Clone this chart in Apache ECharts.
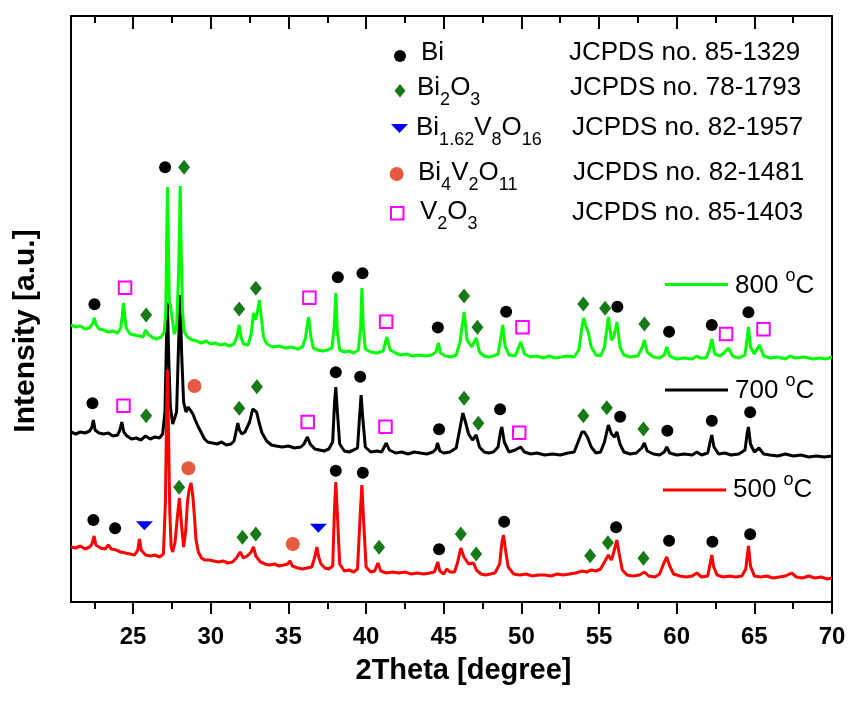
<!DOCTYPE html>
<html>
<head>
<meta charset="utf-8">
<script src="https://cdn.jsdelivr.net/npm/echarts@6/dist/echarts.min.js"></script>
<style>
html,body{margin:0;padding:0;background:#fff;}
#chart{width:849px;height:702px;}
</style>
</head>
<body>
<div id="chart"></div>
<script>
// ---- Data: [2Theta (degree), intensity (a.u., offset stacked)] ----
const seriesNames = ['800 °C', '700 °C', '500 °C'];
const majorTicks = [25, 30, 35, 40, 45, 50, 55, 60, 65, 70];
const minorTicks = [22.5, 27.5, 32.5, 37.5, 42.5, 47.5, 52.5, 57.5, 62.5, 67.5];

const green800 = [
[21.0,277],[21.3,275],[21.6,276],[21.9,273],[22.2,274],[22.4,279],[22.5,284],[22.6,278],[22.8,273],[23.1,272],
[23.4,270],[23.7,271],[24.0,269],[24.2,274],[24.3,286],[24.38,299],[24.45,288],[24.55,274],[24.8,268],[25.1,267],
[25.4,266],[25.65,265],[25.8,272],[25.85,274],[25.95,268],[26.2,265],[26.5,263],[26.8,265],[27.0,270],[27.1,290],
[27.16,360],[27.21,415],[27.27,360],[27.33,300],[27.4,297],[27.5,285],[27.65,268],[27.8,275],[27.93,330],[28.0,380],
[28.03,416],[28.1,350],[28.18,290],[28.3,270],[28.5,265],[28.8,262],[29.1,261],[29.4,259],[29.7,261],[30.0,258],
[30.3,259],[30.6,257],[30.9,258],[31.2,256],[31.5,258],[31.7,266],[31.83,277],[31.95,265],[32.1,258],[32.4,257],
[32.6,268],[32.75,289],[32.88,282],[33.0,290],[33.13,302],[33.25,285],[33.4,265],[33.6,258],[34.0,255],[34.4,256],
[34.8,254],[35.2,255],[35.6,253],[35.9,255],[36.1,264],[36.29,285],[36.45,265],[36.6,254],[36.9,252],[37.2,251],
[37.5,252],[37.8,254],[37.95,275],[38.05,309],[38.15,270],[38.3,252],[38.6,250],[38.9,251],[39.2,249],[39.5,252],
[39.65,275],[39.73,314],[39.82,275],[39.95,253],[40.3,250],[40.7,249],[41.1,251],[41.34,265],[41.55,252],[41.9,249],
[42.2,247],[42.6,248],[43.0,246],[43.4,247],[43.8,246],[44.2,247],[44.5,250],[44.66,259],[44.8,249],[45.1,246],
[45.5,245],[45.8,247],[46.05,260],[46.31,290],[46.5,262],[46.8,255],[47.09,264],[47.3,250],[47.6,246],[47.9,245],
[48.2,246],[48.5,248],[48.65,262],[48.8,277],[48.95,256],[49.2,247],[49.6,246],[49.96,260],[50.2,248],[50.6,245],
[51.0,246],[51.4,244],[51.8,246],[52.2,244],[52.6,245],[53.0,246],[53.4,245],[53.7,252],[53.9,275],[54.0,284],
[54.15,276],[54.3,270],[54.5,255],[54.8,247],[55.1,246],[55.35,255],[55.6,285],[55.8,262],[55.95,265],[56.15,280],
[56.35,255],[56.6,247],[57.0,245],[57.5,246],[57.8,255],[57.92,262],[58.1,250],[58.5,245],[58.9,244],[59.2,247],
[59.36,255],[59.55,246],[60.0,243],[60.5,244],[61.0,243],[61.3,246],[61.5,244],[61.9,244],[62.1,252],[62.26,263],
[62.45,248],[62.8,246],[63.1,250],[63.33,254],[63.6,246],[64.0,244],[64.4,247],[64.55,265],[64.62,275],[64.75,255],
[65.0,248],[65.33,257],[65.6,246],[66.0,244],[66.5,245],[67.0,243],[67.3,246],[67.6,244],[68.2,245],[68.8,243],
[69.2,244],[69.6,243],[70.0,245]
];

const black700 = [
[21.0,170],[21.3,168],[21.6,170],[21.9,169],[22.2,171],[22.35,175],[22.44,182],[22.55,172],[22.8,169],[23.1,168],
[23.4,169],[23.7,166],[24.0,167],[24.15,172],[24.27,180],[24.4,170],[24.6,166],[24.9,163],[25.2,164],[25.5,162],
[25.8,166],[26.1,163],[26.4,165],[26.7,164],[26.9,168],[27.05,190],[27.13,250],[27.21,300],[27.3,240],[27.4,195],
[27.55,178],[27.65,176],[27.8,190],[27.93,260],[28.03,307],[28.12,250],[28.25,200],[28.4,190],[28.55,195],[28.67,197],
[28.85,188],[29.0,182],[29.2,175],[29.4,169],[29.6,163],[29.8,160],[30.1,159],[30.4,158],[30.7,160],[31.0,157],
[31.3,158],[31.5,161],[31.65,172],[31.74,179],[31.85,172],[32.0,168],[32.2,170],[32.5,180],[32.7,193],[32.81,195],
[32.95,190],[33.1,180],[33.3,169],[33.6,161],[33.9,157],[34.2,156],[34.6,155],[35.0,156],[35.4,154],[35.8,155],
[36.0,158],[36.22,165],[36.4,158],[36.7,153],[37.0,152],[37.3,151],[37.6,153],[37.85,160],[37.97,200],[38.05,215],
[38.13,195],[38.3,158],[38.6,151],[38.9,150],[39.2,152],[39.45,154],[39.6,190],[39.68,207],[39.78,185],[39.95,155],
[40.3,150],[40.7,151],[41.0,150],[41.3,159],[41.5,152],[41.9,149],[42.3,150],[42.7,148],[43.1,150],[43.5,149],
[43.9,148],[44.3,150],[44.5,153],[44.6,159],[44.75,151],[45.0,149],[45.4,150],[45.8,154],[46.0,170],[46.23,189],
[46.4,180],[46.6,168],[46.85,162],[47.09,167],[47.3,155],[47.6,150],[47.9,149],[48.2,150],[48.5,155],[48.65,170],
[48.74,175],[48.9,160],[49.2,150],[49.6,152],[49.95,155],[50.2,150],[50.6,148],[51.0,149],[51.5,147],[52.0,148],
[52.5,147],[53.0,149],[53.4,150],[53.7,162],[53.9,170],[54.05,170],[54.25,165],[54.5,155],[54.8,149],[55.1,150],
[55.35,160],[55.6,177],[55.8,168],[56.0,165],[56.15,170],[56.35,158],[56.6,150],[57.0,148],[57.4,149],[57.75,154],
[57.92,159],[58.1,151],[58.5,148],[58.9,147],[59.2,150],[59.36,155],[59.55,149],[60.0,147],[60.5,148],[61.0,147],
[61.3,150],[61.6,147],[62.0,149],[62.15,160],[62.26,167],[62.4,155],[62.7,148],[63.1,149],[63.5,147],[64.0,148],
[64.4,152],[64.55,170],[64.62,175],[64.75,158],[65.0,150],[65.3,154],[65.6,148],[66.0,147],[66.5,146],[67.0,148],
[67.5,146],[68.0,147],[68.5,145],[69.0,146],[69.5,145],[70.0,146]
];

const red500 = [
[21.0,55],[21.3,54],[21.6,56],[21.9,53],[22.2,55],[22.35,58],[22.49,66],[22.6,57],[22.9,54],[23.2,53],
[23.4,57],[23.6,53],[23.9,52],[24.2,50],[24.5,49],[24.8,48],[25.1,47],[25.3,52],[25.41,63],[25.52,52],
[25.8,47],[26.1,46],[26.4,47],[26.7,45],[26.95,48],[27.08,100],[27.15,180],[27.21,232],[27.28,170],[27.36,90],
[27.45,55],[27.55,50],[27.7,60],[27.85,85],[27.98,104],[28.1,80],[28.25,55],[28.38,70],[28.5,100],[28.6,112],
[28.73,119],[28.85,105],[28.95,85],[29.05,62],[29.2,50],[29.4,44],[29.6,42],[29.9,42],[30.2,41],[30.5,40],
[30.8,41],[31.1,39],[31.4,40],[31.65,44],[31.89,50],[32.1,44],[32.35,46],[32.6,50],[32.75,55],[32.9,46],
[33.2,40],[33.5,38],[33.8,37],[34.1,38],[34.4,36],[34.7,37],[34.95,38],[35.1,41],[35.25,36],[35.6,34],
[35.9,33],[36.2,34],[36.5,35],[36.7,45],[36.83,55],[36.95,45],[37.1,38],[37.35,34],[37.6,33],[37.85,36],
[37.97,95],[38.05,120],[38.13,95],[38.3,38],[38.6,31],[38.9,32],[39.2,30],[39.45,33],[39.63,90],[39.73,117],
[39.83,85],[40.0,35],[40.3,30],[40.55,31],[40.76,39],[40.95,31],[41.3,29],[41.7,30],[42.1,29],[42.5,30],
[42.9,28],[43.3,29],[43.7,28],[44.1,29],[44.4,30],[44.55,37],[44.62,40],[44.75,31],[45.0,28],[45.2,33],
[45.4,30],[45.7,30],[45.9,40],[46.1,54],[46.3,45],[46.6,38],[46.92,39],[47.1,32],[47.4,28],[47.7,27],
[48.0,28],[48.3,29],[48.6,38],[48.75,60],[48.85,67],[48.95,55],[49.15,35],[49.5,28],[49.9,27],[50.3,28],
[50.7,26],[51.1,27],[51.5,27],[51.9,26],[52.3,28],[52.7,27],[53.1,28],[53.5,29],[53.9,31],[54.2,30],
[54.5,32],[54.8,31],[55.1,33],[55.35,40],[55.6,47],[55.8,42],[55.95,50],[56.15,62],[56.3,48],[56.5,32],
[56.8,27],[57.2,26],[57.6,27],[57.92,30],[58.2,26],[58.6,25],[58.9,28],[59.15,38],[59.36,45],[59.55,36],
[59.8,28],[60.2,26],[60.6,25],[61.0,26],[61.3,29],[61.6,25],[62.0,26],[62.15,38],[62.26,47],[62.38,35],
[62.6,27],[63.0,25],[63.4,26],[63.8,25],[64.2,26],[64.45,33],[64.62,56],[64.75,36],[65.0,26],[65.4,25],
[65.8,26],[66.2,24],[66.6,25],[67.0,26],[67.4,29],[67.7,25],[68.1,24],[68.5,26],[68.9,24],[69.3,25],
[69.7,23],[70.0,24]
];

// Phase markers [2Theta, height]
const biMarks = [
[27.06,434.7],
[22.51,297.7],[38.18,324.7],[39.77,328.7],[44.62,274.5],[49.02,290.3],[56.18,295.3],[59.51,270.3],[62.26,277],[64.62,289.7],
[22.38,198.7],[38.05,229.7],[39.62,225.3],[44.70,172.7],[48.63,192.7],[56.36,185.3],[59.40,171.3],[62.26,181.3],[64.73,189.7],
[22.44,82],[23.84,73.7],[38.05,131.3],[39.79,129.3],[44.70,52.8],[48.89,80.3],[56.10,74.7],[59.51,61.3],[62.30,60.3],[64.73,67.7]
];
const bi2o3Marks = [
[28.28,434.7],
[25.84,287],[31.83,293],[32.90,313.7],[46.31,306],[47.17,274.7],[53.99,298],[55.39,293.7],[57.92,278],
[25.84,186.3],[31.83,193.7],[32.97,215.3],[46.31,203.7],[47.23,178.7],[53.99,186.3],[55.50,194.3],[57.86,173],
[27.96,114.7],[32.04,64.7],[32.90,68],[40.84,54.7],[46.10,68],[47.09,48],[54.43,46.3],[55.57,59.3],[57.86,43.7]
];
const bi162v8o16Marks = [[25.73,76.3],[36.93,73.7]];
const bi4v2o11Marks = [[28.95,216],[28.56,133.7],[35.28,58]];
const v2o3Marks = [
[24.48,314.3],[36.35,304.3],[41.29,280.3],[50.07,274.7],[63.18,268],[65.59,272.7],
[24.38,196.3],[36.24,180],[41.25,175.3],[49.86,169.3]
];

const phaseLabels = ['{n|Bi}', '{n|Bi}{s|2}{n|O}{s|3}', '{n|Bi}{s|1.62}{n|V}{s|8}{n|O}{s|16}', '{n|Bi}{s|4}{n|V}{s|2}{n|O}{s|11}', '{n|V}{s|2}{n|O}{s|3}'];
const jcpdsLabels = ['JCPDS no. 85-1329', 'JCPDS no. 78-1793', 'JCPDS no. 82-1957', 'JCPDS no. 82-1481', 'JCPDS no. 85-1403'];

const FONT = '"Liberation Sans", Arial, Helvetica, sans-serif';
const C_GREEN = '#00FF00', C_BLACK = '#000000', C_RED = '#FF0000';
const C_DIAMOND = '#167A16', C_TRI = '#0000F0', C_ORANGE = '#E65A40', C_SQ = '#FF00FF';

const chart = echarts.init(document.getElementById('chart'), null, {renderer: 'canvas'});

const richSub = {
  n: {fontSize: 26, fontFamily: FONT, color: '#000', verticalAlign: 'top'},
  s: {fontSize: 18, fontFamily: FONT, color: '#000', verticalAlign: 'top', padding: [16, 0, 0, 0]}
};
const richSup = {
  n: {fontSize: 26, fontFamily: FONT, color: '#000', verticalAlign: 'top', padding: [6, 0, 0, 0]},
  p: {fontSize: 18, fontFamily: FONT, color: '#000', verticalAlign: 'top'}
};

// Layout of the phase key (pixel positions)
const keyRows = [
  {my: 56, ty: 53, tx: 421, jx: 569, jy: 53},
  {my: 90.7, ty: 88, tx: 417, jx: 570, jy: 88},
  {my: 128.3, ty: 128, tx: 416, jx: 572, jy: 128},
  {my: 174, ty: 173, tx: 418, jx: 573, jy: 173},
  {my: 213.3, ty: 212, tx: 420, jx: 572, jy: 213}
];

const graphics = [];
graphics.push({type: 'circle', shape: {cx: 400, cy: keyRows[0].my, r: 6}, style: {fill: '#000'}});
graphics.push({type: 'polygon', shape: {points: [[400, 84], [405.5, 90.7], [400, 97.4], [394.5, 90.7]]}, style: {fill: C_DIAMOND}});
graphics.push({type: 'polygon', shape: {points: [[391, 124], [408, 124], [399.5, 133]]}, style: {fill: C_TRI}});
graphics.push({type: 'circle', shape: {cx: 396.7, cy: 174, r: 7}, style: {fill: C_ORANGE}});
graphics.push({type: 'rect', shape: {x: 391, y: 207, width: 12.5, height: 12.5}, style: {fill: 'none', stroke: C_SQ, lineWidth: 2}});
keyRows.forEach((r, i) => {
  graphics.push({type: 'text', x: r.tx, y: r.ty - 13, style: {text: phaseLabels[i], rich: richSub, verticalAlign: 'top', align: 'left'}});
  graphics.push({type: 'text', x: r.jx, y: r.jy, style: {text: jcpdsLabels[i], font: '26px ' + FONT, fill: '#000', verticalAlign: 'middle', align: 'left'}});
});
const sKeys = [
  {ly: 284.5, x1: 665, x2: 728, tx: 735, ty: 286, color: C_GREEN, lab: '{n|800 }{p|o}{n|C}'},
  {ly: 390, x1: 665, x2: 728, tx: 735, ty: 391, color: C_BLACK, lab: '{n|700 }{p|o}{n|C}'},
  {ly: 490, x1: 663, x2: 726, tx: 733, ty: 490, color: C_RED, lab: '{n|500 }{p|o}{n|C}'}
];
sKeys.forEach(k => {
  graphics.push({type: 'line', shape: {x1: k.x1, y1: k.ly, x2: k.x2, y2: k.ly}, style: {stroke: k.color, lineWidth: 3}});
  graphics.push({type: 'text', x: k.tx, y: k.ty - 19, style: {text: k.lab, rich: richSup, verticalAlign: 'top', align: 'left'}});
});

const axisLineStyle = {color: '#000', width: 2};
const baseX = {type: 'value', min: 21, max: 70, splitLine: {show: false}, gridIndex: 0};

const option = {
  backgroundColor: '#fff',
  animation: false,
  grid: {left: 71, right: 17, top: 16, bottom: 100, containLabel: false},
  xAxis: [
    Object.assign({}, baseX, {
      position: 'bottom',
      axisLine: {show: true, onZero: false, lineStyle: axisLineStyle},
      axisTick: {show: true, inside: false, length: 12, customValues: majorTicks, lineStyle: {color: '#000', width: 2}},
      axisLabel: {show: true, customValues: majorTicks, margin: 23, fontSize: 24, fontWeight: 'bold', color: '#000', fontFamily: FONT},
      name: '2Theta [degree]', nameLocation: 'middle', nameGap: 54,
      nameTextStyle: {fontSize: 29, fontWeight: 'bold', color: '#000', fontFamily: FONT, padding: [0, 0, 0, 24]}
    }),
    Object.assign({}, baseX, {
      position: 'bottom',
      axisLine: {show: false, onZero: false},
      axisTick: {show: true, inside: false, length: 7, customValues: minorTicks, lineStyle: {color: '#000', width: 2}},
      axisLabel: {show: false}
    }),
    Object.assign({}, baseX, {
      position: 'top',
      axisLine: {show: true, onZero: false, lineStyle: axisLineStyle},
      axisTick: {show: true, inside: true, length: 13, customValues: majorTicks, lineStyle: {color: '#000', width: 2}},
      axisLabel: {show: false}
    }),
    Object.assign({}, baseX, {
      position: 'top',
      axisLine: {show: false, onZero: false},
      axisTick: {show: true, inside: true, length: 7, customValues: minorTicks, lineStyle: {color: '#000', width: 2}},
      axisLabel: {show: false}
    })
  ],
  yAxis: [
    {type: 'value', min: 0, max: 586, position: 'left',
      axisLine: {show: true, onZero: false, lineStyle: axisLineStyle},
      axisTick: {show: false}, axisLabel: {show: false}, splitLine: {show: false},
      name: 'Intensity [a.u.]', nameLocation: 'middle', nameGap: 30, nameRotate: 90,
      nameTextStyle: {fontSize: 30, fontWeight: 'bold', color: '#000', fontFamily: FONT, padding: [0, 44, 0, 0]}
    },
    {type: 'value', min: 0, max: 586, position: 'right',
      axisLine: {show: true, onZero: false, lineStyle: axisLineStyle},
      axisTick: {show: false}, axisLabel: {show: false}, splitLine: {show: false}
    }
  ],
  series: [
    {name: seriesNames[1], type: 'line', data: black700, showSymbol: false, symbol: 'none', lineStyle: {color: C_BLACK, width: 3}, itemStyle: {color: C_BLACK}, z: 2, silent: true},
    {name: seriesNames[2], type: 'line', data: red500, showSymbol: false, symbol: 'none', lineStyle: {color: C_RED, width: 3}, itemStyle: {color: C_RED}, z: 3, silent: true},
    {name: seriesNames[0], type: 'line', data: green800, showSymbol: false, symbol: 'none', lineStyle: {color: C_GREEN, width: 3}, itemStyle: {color: C_GREEN}, z: 4, silent: true},
    {name: 'Bi', type: 'scatter', data: biMarks, symbol: 'circle', symbolSize: 12, itemStyle: {color: '#000', opacity: 1}, z: 10, silent: true},
    {name: 'Bi2O3', type: 'scatter', data: bi2o3Marks, symbol: 'diamond', symbolSize: [12, 15], itemStyle: {color: C_DIAMOND, opacity: 1}, z: 10, silent: true},
    {name: 'Bi1.62V8O16', type: 'scatter', data: bi162v8o16Marks, symbol: 'triangle', symbolRotate: 180, symbolSize: [17, 9], itemStyle: {color: C_TRI, opacity: 1}, z: 10, silent: true},
    {name: 'Bi4V2O11', type: 'scatter', data: bi4v2o11Marks, symbol: 'circle', symbolSize: 14, itemStyle: {color: C_ORANGE, opacity: 1}, z: 10, silent: true},
    {name: 'V2O3', type: 'scatter', data: v2o3Marks, symbol: 'rect', symbolSize: 12.5, itemStyle: {color: 'rgba(0,0,0,0)', borderColor: C_SQ, borderWidth: 2, opacity: 1}, z: 10, silent: true}
  ],
  graphic: graphics
};
chart.setOption(option);
</script>
</body>
</html>
